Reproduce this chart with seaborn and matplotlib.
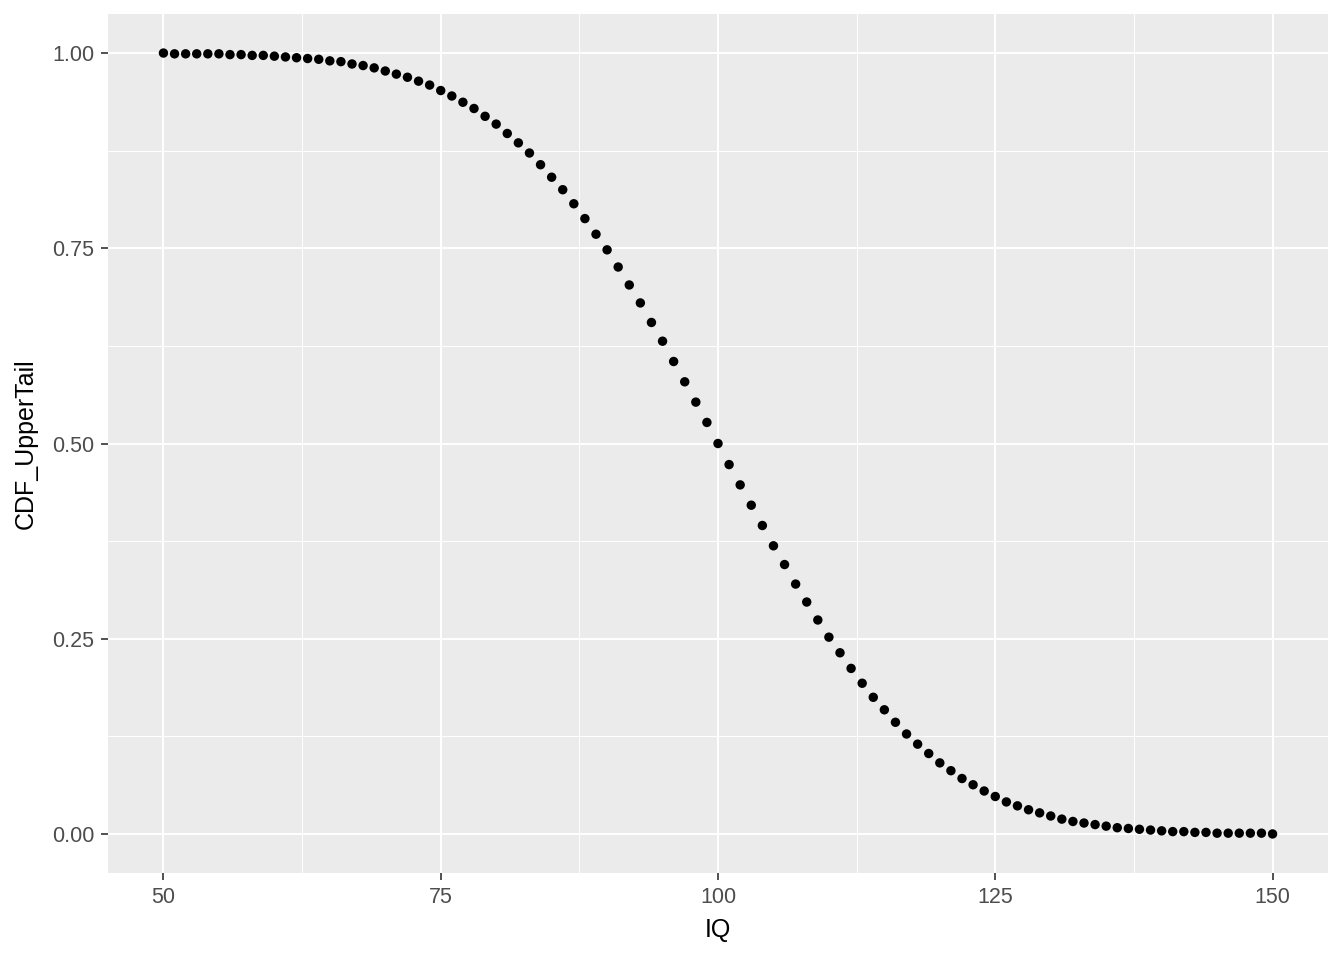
import numpy as np
import pandas as pd
import seaborn as sns
import matplotlib.pyplot as plt
from matplotlib.ticker import MultipleLocator

# IQ values on the x axis (one point per unit)
iq = [50, 51, 52, 53, 54, 55, 56, 57, 58, 59,
      60, 61, 62, 63, 64, 65, 66, 67, 68, 69,
      70, 71, 72, 73, 74, 75, 76, 77, 78, 79,
      80, 81, 82, 83, 84, 85, 86, 87, 88, 89,
      90, 91, 92, 93, 94, 95, 96, 97, 98, 99,
      100, 101, 102, 103, 104, 105, 106, 107, 108, 109,
      110, 111, 112, 113, 114, 115, 116, 117, 118, 119,
      120, 121, 122, 123, 124, 125, 126, 127, 128, 129,
      130, 131, 132, 133, 134, 135, 136, 137, 138, 139,
      140, 141, 142, 143, 144, 145, 146, 147, 148, 149, 150]

# upper tail values
cdf_upper = [1.000, 0.999, 0.999, 0.999, 0.999, 0.999, 0.998, 0.998, 0.997, 0.997,
             0.996, 0.995, 0.994, 0.993, 0.992, 0.990, 0.989, 0.986, 0.984, 0.981,
             0.977, 0.973, 0.969, 0.964, 0.959, 0.952, 0.945, 0.937, 0.929, 0.919,
             0.909, 0.897, 0.885, 0.872, 0.857, 0.841, 0.825, 0.807, 0.788, 0.768,
             0.748, 0.726, 0.703, 0.680, 0.655, 0.631, 0.605, 0.579, 0.553, 0.527,
             0.500, 0.473, 0.447, 0.421, 0.395, 0.369, 0.345, 0.320, 0.297, 0.274,
             0.252, 0.232, 0.212, 0.193, 0.175, 0.159, 0.143, 0.128, 0.115, 0.103,
             0.091, 0.081, 0.071, 0.063, 0.055, 0.048, 0.041, 0.036, 0.031, 0.027,
             0.023, 0.019, 0.016, 0.014, 0.012, 0.010, 0.008, 0.007, 0.006, 0.005,
             0.004, 0.003, 0.003, 0.002, 0.002, 0.001, 0.001, 0.001, 0.001, 0.001, 0.000]

df = pd.DataFrame({'IQ': iq, 'CDF_UpperTail': cdf_upper})

sns.set_style("darkgrid", {"axes.facecolor": "#EBEBEB", "grid.color": "white"})
plt.rcParams['font.family'] = ['Liberation Sans', 'DejaVu Sans']

fig = plt.figure(figsize=(13.44, 9.6), dpi=100)
ax = fig.add_axes([108 / 1344, 1 - 873 / 960, 1220 / 1344, 859 / 960])

sns.scatterplot(data=df, x='IQ', y='CDF_UpperTail', ax=ax, color='black',
                s=46, edgecolor='none', linewidth=0, zorder=3)

ax.set_xlim(45, 155)
ax.set_ylim(-0.05, 1.05)
ax.xaxis.set_major_locator(MultipleLocator(25))
ax.xaxis.set_minor_locator(MultipleLocator(12.5))
ax.yaxis.set_major_locator(MultipleLocator(0.25))
ax.yaxis.set_minor_locator(MultipleLocator(0.125))
ax.set_yticklabels([f"{v:.2f}" for v in ax.get_yticks()])

ax.grid(which='major', color='white', linewidth=1.4)
ax.grid(which='minor', color='white', linewidth=0.7)
for sp in ax.spines.values():
    sp.set_visible(False)

ax.tick_params(axis='both', which='major', length=5, width=1.2, color='#333333',
               labelcolor='#4D4D4D', labelsize=15.5, pad=5,
               bottom=True, left=True)
ax.tick_params(axis='both', which='minor', length=0, bottom=False, left=False)

ax.set_xlabel('IQ', fontsize=18, color='black', labelpad=7)
ax.set_ylabel('CDF_UpperTail', fontsize=18, color='black', labelpad=10)

plt.savefig('out.png', dpi=100)
